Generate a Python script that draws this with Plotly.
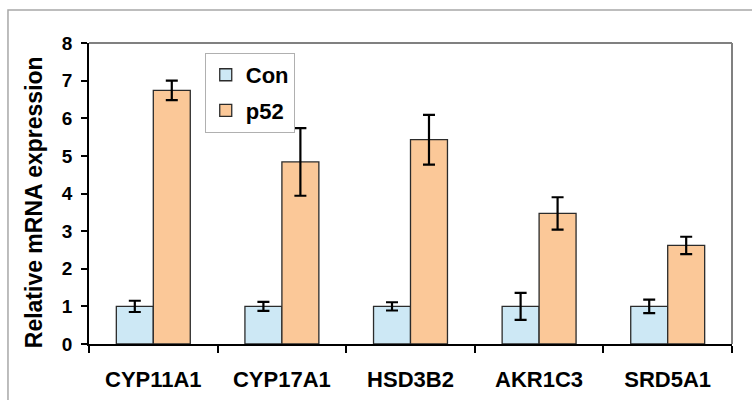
import plotly.graph_objects as go

genes = ["CYP11A1", "CYP17A1", "HSD3B2", "AKR1C3", "SRD5A1"]
con_vals = [1.00, 1.00, 1.00, 1.00, 1.00]
con_err = [0.15, 0.12, 0.11, 0.36, 0.18]
p52_vals = [6.74, 4.84, 5.43, 3.47, 2.62]
p52_err = [0.26, 0.90, 0.66, 0.43, 0.23]
y_ticks = [0, 1, 2, 3, 4, 5, 6, 7, 8]

FONT = "Liberation Sans, Arial, sans-serif"
edge = dict(color="#2b2b2b", width=1.3)

fig = go.Figure()
fig.add_trace(go.Bar(
    x=genes, y=con_vals, name="Con", legendgroup="a",
    marker=dict(color="#cde8f5", line=edge),
    error_y=dict(type="data", array=con_err, color="black", thickness=2.2, width=6),
))
fig.add_trace(go.Bar(
    x=genes, y=p52_vals, name="p52", legendgroup="b",
    marker=dict(color="#fbc898", line=edge),
    error_y=dict(type="data", array=p52_err, color="black", thickness=2.2, width=6),
))

fig.update_layout(
    width=752, height=400,
    margin=dict(l=89, r=20, t=43, b=56),
    paper_bgcolor="white", plot_bgcolor="white",
    barmode="group", bargap=0.425, bargroupgap=0,
    font=dict(family=FONT, color="black"),
    showlegend=True,
    legend=dict(
        x=0.18, y=0.967, xanchor="left", yanchor="top",
        bgcolor="white", bordercolor="#b0b0b0", borderwidth=1,
        font=dict(family=FONT, size=22, color="black", weight="bold"),
        itemwidth=30, tracegroupgap=4,
    ),
    xaxis=dict(
        automargin=False,
        showline=True, linecolor="black", linewidth=1.5,
        ticks="outside", tickson="boundaries", ticklen=7, tickwidth=1.5, tickcolor="black",
        tickfont=dict(family=FONT, size=22, weight="bold"),
        ticklabelstandoff=15, showgrid=False, zeroline=False,
    ),
    yaxis=dict(
        automargin=False,
        range=[0, 8], tickvals=y_ticks,
        showline=True, linecolor="black", linewidth=1.5,
        ticks="outside", ticklen=6, tickwidth=1.5, tickcolor="black",
        tickfont=dict(family=FONT, size=19, weight="bold"),
        ticklabelstandoff=5, showgrid=False, zeroline=False,
    ),
    annotations=[dict(
        text="Relative mRNA expression", xref="paper", yref="paper",
        x=-0.086, y=0.47, xanchor="center", yanchor="middle",
        textangle=-90, showarrow=False,
        font=dict(family=FONT, size=23, color="black", weight="bold"),
    )],
    shapes=[
        # plot frame (top and right edges)
        dict(type="line", xref="paper", yref="paper", x0=0, x1=1, y0=1, y1=1,
             line=dict(color="#808080", width=2)),
        dict(type="line", xref="paper", yref="paper", x0=1, x1=1, y0=0, y1=1,
             line=dict(color="#808080", width=2)),
        # outer chart border
        dict(type="rect", xref="paper", yref="paper", x0=-0.126, x1=1.2, y0=-0.4, y1=1.1096,
             line=dict(color="#a8a8a8", width=1.5), layer="below"),
    ],
)

fig.write_html("out.html")
